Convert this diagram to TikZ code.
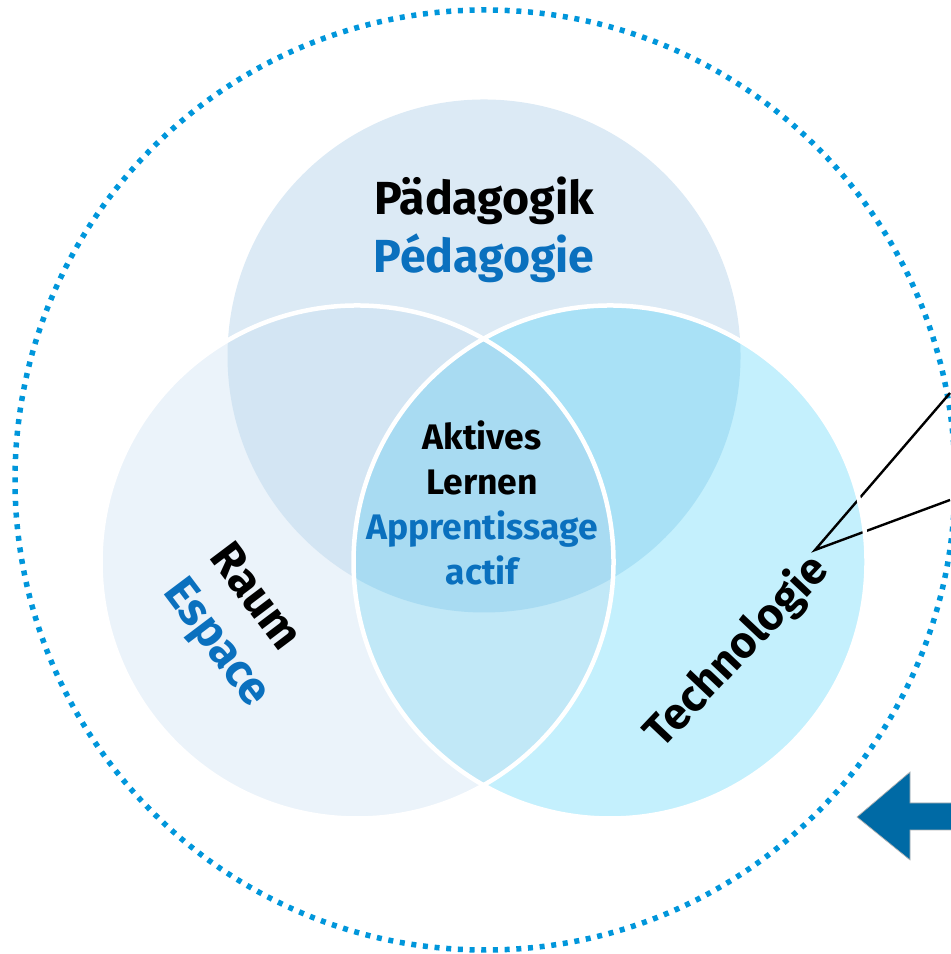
\documentclass[tikz,border=0pt]{standalone}
\usepackage{fontspec}
\setmainfont{Fira Sans}
\usepackage{xcolor}
\usetikzlibrary{positioning, calc}
\definecolor{Ring_Blue}{HTML}{0096DB}
\definecolor{Label_Blue}{HTML}{0A70BE}
\definecolor{Arrow_Blue}{HTML}{006AA5}
\definecolor{Fill_Top}{HTML}{DCEAF5}
\definecolor{Fill_Left}{HTML}{EBF3FA}
\definecolor{Fill_Right}{HTML}{C4F0FD}
\definecolor{Fill_TopLeft}{HTML}{D3E5F3}
\definecolor{Fill_TopRight}{HTML}{A9E1F6}
\definecolor{Fill_LeftRight}{HTML}{C1E8F7}
\definecolor{Fill_Core}{HTML}{A8DBF2}

\tikzset{
    big label/.style={font=\fontsize{13.2}{16.5}\selectfont\bfseries, inner sep=0pt},
    core label/.style={font=\fontsize{10.1}{12.8}\selectfont\bfseries, inner sep=0pt, align=center},
    rim/.style={draw=white, line width=0.045cm},
}

\begin{document}
\begin{tikzpicture}[scale=1.0]
    \useasboundingbox (0,0) rectangle (9.5,9.54);

    % Circle centres
    \coordinate (ctop) at (4.84,5.98);
    \coordinate (cleft) at (3.57,3.92);
    \coordinate (cright) at (6.10,3.92);
    \def\rad{2.565}

    % === Outer dotted ring ===
    \draw[Ring_Blue, line width=0.055cm, dash pattern=on 0.05cm off 0.067cm] (4.85,4.74) circle (4.70);

    % === Three circles ===
    \fill[Fill_Top] (ctop) circle (\rad);
    \fill[Fill_Left] (cleft) circle (\rad);
    \fill[Fill_Right] (cright) circle (\rad);

    % Pairwise overlaps
    \begin{scope}
        \clip (ctop) circle (\rad);
        \fill[Fill_TopLeft] (cleft) circle (\rad);
        \fill[Fill_TopRight] (cright) circle (\rad);
    \end{scope}
    \begin{scope}
        \clip (cleft) circle (\rad);
        \fill[Fill_LeftRight] (cright) circle (\rad);
        % Centre: all three
        \clip (cright) circle (\rad);
        \fill[Fill_Core] (ctop) circle (\rad);
    \end{scope}

    % === Pointer lines from Technologie ===
    \coordinate (tip) at (8.15,4.04);
    \coordinate (upper end) at (9.50,5.61);
    \coordinate (lower end) at (9.50,4.54);
    \draw[line width=0.024cm] (upper end) -- (tip) -- (lower end);

    % White rims of the lower circles
    \draw[rim] (cleft) circle (\rad);
    \draw[rim] (cright) circle (\rad);

    % === Labels ===
    \node[big label, align=center] (paed) at (4.84,7.24)
        {Pädagogik\\\textcolor{Label_Blue}{Pédagogie}};
    \node[core label] (core) at (4.82,4.51)
        {Aktives\\Lernen\\\textcolor{Label_Blue}{Apprentissage}\\\textcolor{Label_Blue}{actif}};
    \node[big label, align=left, rotate=-53] (raum) at (2.38,3.27)
        {Raum\\\textcolor{Label_Blue}{Espace}};
    \node[big label, font=\fontsize{12.6}{15}\selectfont\bfseries, rotate=46.6] (tech) at (7.37,3.02) {Technologie};

    % === Block arrow at the right edge ===
    \fill[Arrow_Blue, draw=gray!60, line width=0.2pt]
        (9.56,1.51) -- (9.10,1.51) -- (9.10,1.82) -- (8.57,1.37)
        -- (9.10,0.94) -- (9.10,1.24) -- (9.56,1.24) -- cycle;

\end{tikzpicture}
\end{document}
